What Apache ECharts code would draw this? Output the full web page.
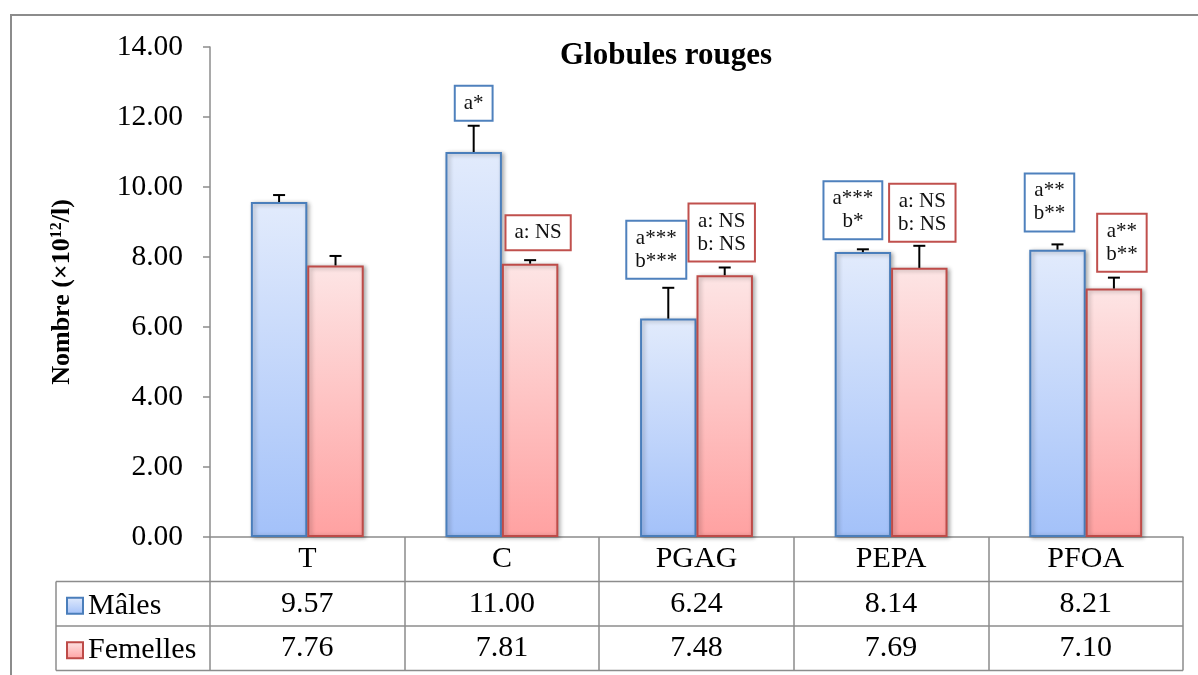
<!DOCTYPE html>
<html>
<head>
<meta charset="utf-8">
<script src="https://cdn.jsdelivr.net/npm/echarts@6/dist/echarts.min.js"></script>
<style>
  html, body { margin: 0; padding: 0; background: #fff; }
  #chart { width: 1198px; height: 675px; }
</style>
</head>
<body>
<div id="chart"></div>
<script>
// Red blood cell counts (x10^12/l) per group, males vs females
const categories = ['T', 'C', 'PGAG', 'PEPA', 'PFOA'];
const males = [9.57, 11.00, 6.24, 8.14, 8.21];
const femelles = [7.76, 7.81, 7.48, 7.69, 7.10];
const malesErr = [0.20, 0.75, 0.88, 0.08, 0.15];
const femellesErr = [0.27, 0.10, 0.22, 0.63, 0.31];
const malesNotes = ['', 'a*', 'a***\nb***', 'a***\nb*', 'a**\nb**'];
const femellesNotes = ['', 'a: NS', 'a: NS\nb: NS', 'a: NS\nb: NS', 'a**\nb**'];
const yMin = 0, yMax = 14, yStep = 2;

// Layout and style settings
const FONT = '"Liberation Serif", "Times New Roman", serif';
const GRID = { left: 210, right: 15, top: 47, bottom: 138 };
const W = 1198, H = 675;
const ROW_H = 44.5;
const CAT_GAP = 0.42;
const LINE = '#8c8c8c';
// [dx, gap] placement of each note box relative to its error bar top
const maleNotePos = [[0, 0], [0, 6], [-12, 10], [-10, 11], [-8, 14]];
const femaleNotePos = [[0, 0], [8, 11], [-3, 7], [3, 5], [8, 7]];

const axisBottom = H - GRID.bottom;
const tableRight = W - GRID.right;
const legendLeft = 56;

function barOffset(api, side) {
  const catW = api.size([1, 0])[0];
  const barW = catW * (1 - CAT_GAP) / 2;
  return side * barW / 2;
}

function errorBars(side) {
  return function (params, api) {
    const i = api.value(0), v = api.value(1), e = api.value(2);
    const base = api.coord([i, v]);
    const top = api.coord([i, v + e]);
    const x = base[0] + barOffset(api, side);
    return {
      type: 'group',
      children: [
        { type: 'line', shape: { x1: x, y1: base[1], x2: x, y2: top[1] }, style: { stroke: '#000', lineWidth: 2 } },
        { type: 'line', shape: { x1: x - 6, y1: top[1], x2: x + 6, y2: top[1] }, style: { stroke: '#000', lineWidth: 2 } }
      ]
    };
  };
}

function noteBoxes(side, notes, pos, border) {
  return function (params, api) {
    const i = api.value(0);
    const text = notes[i];
    if (!text) return null;
    const top = api.coord([i, api.value(1)]);
    const x = top[0] + barOffset(api, side) + pos[i][0];
    const y = top[1] - pos[i][1];
    return {
      type: 'text',
      x: x, y: y,
      style: {
        text: text,
        fontSize: 21,
        fontFamily: FONT,
        fill: '#111',
        align: 'center',
        verticalAlign: 'bottom',
        lineHeight: 23,
        backgroundColor: '#fff',
        borderColor: border,
        borderWidth: 2,
        padding: [5, 8, 5, 8]
      }
    };
  };
}

const maleStyle = {
  color: new echarts.graphic.LinearGradient(0, 0, 0, 1, [
    { offset: 0, color: '#e2ebfc' }, { offset: 1, color: '#a3c1f9' }
  ]),
  borderColor: '#4a7ebb', borderWidth: 2,
  shadowColor: 'rgba(0,0,0,0.3)', shadowBlur: 4, shadowOffsetX: 2, shadowOffsetY: 1
};
const femaleStyle = {
  color: new echarts.graphic.LinearGradient(0, 0, 0, 1, [
    { offset: 0, color: '#fde5e5' }, { offset: 1, color: '#ffa1a1' }
  ]),
  borderColor: '#be4b48', borderWidth: 2,
  shadowColor: 'rgba(0,0,0,0.3)', shadowBlur: 4, shadowOffsetX: 2, shadowOffsetY: 1
};

const tableLabel = (margin) => ({
  margin: margin, verticalAlign: 'middle', interval: 0,
  fontSize: 30, fontFamily: FONT, color: '#000'
});

const chart = echarts.init(document.getElementById('chart'), null, { renderer: 'canvas' });
chart.setOption({
  animation: false,
  backgroundColor: '#fff',
  title: {
    text: 'Globules rouges',
    left: 661, top: 35, textAlign: 'center',
    textStyle: { fontSize: 31, fontWeight: 'bold', fontFamily: FONT, color: '#000' }
  },
  legend: {
    data: ['Mâles', 'Femelles'],
    orient: 'vertical',
    left: 66, top: axisBottom + ROW_H + ROW_H / 2 - 13,
    padding: 0,
    itemWidth: 16, itemHeight: 16, itemGap: 14.5, itemTextGap: 7,
    icon: 'rect', selectedMode: false,
    textStyle: { fontSize: 30, fontFamily: FONT, color: '#000', lineHeight: 30 }
  },
  grid: { left: GRID.left, right: GRID.right, top: GRID.top, bottom: GRID.bottom },
  xAxis: [
    {
      type: 'category', data: categories, position: 'bottom',
      axisLine: { lineStyle: { color: LINE, width: 1.5 } },
      axisTick: { show: true, interval: 0, length: ROW_H * 3, lineStyle: { color: LINE, width: 1.5 } },
      axisLabel: tableLabel(ROW_H / 2)
    },
    {
      type: 'category', data: males.map(v => v.toFixed(2)), position: 'bottom',
      axisLine: { show: false }, axisTick: { show: false },
      axisLabel: tableLabel(ROW_H * 1.5)
    },
    {
      type: 'category', data: femelles.map(v => v.toFixed(2)), position: 'bottom',
      axisLine: { show: false }, axisTick: { show: false },
      axisLabel: tableLabel(ROW_H * 2.5)
    }
  ],
  yAxis: {
    type: 'value', min: yMin, max: yMax, interval: yStep,
    name: 'Nombre (×10{sup|12}/l)',
    nameLocation: 'middle', nameRotate: 90, nameGap: 135,
    nameTextStyle: {
      fontSize: 26, fontWeight: 'bold', fontFamily: FONT, color: '#000',
      rich: { sup: { fontSize: 16, fontWeight: 'bold', fontFamily: FONT, color: '#000', verticalAlign: 'top', padding: [0, 0, 10, 0] } }
    },
    axisLine: { show: true, lineStyle: { color: LINE, width: 1.5 } },
    axisTick: { show: true, length: 7, lineStyle: { color: LINE, width: 1.5 } },
    splitLine: { show: false },
    axisLabel: {
      margin: 27, fontSize: 29.5, fontFamily: FONT, color: '#000',
      formatter: v => v.toFixed(2)
    }
  },
  series: [
    {
      name: 'Mâles', type: 'bar', data: males,
      barGap: '0%', barCategoryGap: (CAT_GAP * 100) + '%',
      itemStyle: maleStyle
    },
    {
      name: 'Femelles', type: 'bar', data: femelles,
      itemStyle: femaleStyle
    },
    {
      type: 'custom', renderItem: errorBars(-1), z: 3,
      data: males.map((v, i) => [i, v, malesErr[i]])
    },
    {
      type: 'custom', renderItem: errorBars(1), z: 3,
      data: femelles.map((v, i) => [i, v, femellesErr[i]])
    },
    {
      type: 'custom', renderItem: noteBoxes(-1, malesNotes, maleNotePos, '#4f81bd'), z: 4,
      data: males.map((v, i) => [i, v + malesErr[i]])
    },
    {
      type: 'custom', renderItem: noteBoxes(1, femellesNotes, femaleNotePos, '#c0504d'), z: 4,
      data: femelles.map((v, i) => [i, v + femellesErr[i]])
    }
  ],
  graphic: [
    // outer frame
    { type: 'polyline', shape: { points: [[11, H], [11, 15], [W, 15]] }, style: { stroke: LINE, lineWidth: 2, fill: null }, silent: true },
    // data table rules
    { type: 'line', shape: { x1: legendLeft, y1: axisBottom + ROW_H, x2: tableRight, y2: axisBottom + ROW_H }, style: { stroke: LINE, lineWidth: 1.5 }, silent: true },
    { type: 'line', shape: { x1: legendLeft, y1: axisBottom + ROW_H * 2, x2: tableRight, y2: axisBottom + ROW_H * 2 }, style: { stroke: LINE, lineWidth: 1.5 }, silent: true },
    { type: 'line', shape: { x1: legendLeft, y1: axisBottom + ROW_H * 3, x2: tableRight, y2: axisBottom + ROW_H * 3 }, style: { stroke: LINE, lineWidth: 1.5 }, silent: true },
    { type: 'line', shape: { x1: legendLeft, y1: axisBottom + ROW_H, x2: legendLeft, y2: axisBottom + ROW_H * 3 }, style: { stroke: LINE, lineWidth: 1.5 }, silent: true }
  ]
});
</script>
</body>
</html>
